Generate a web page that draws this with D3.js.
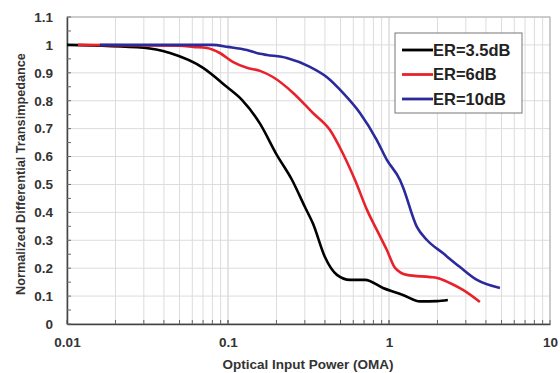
<!DOCTYPE html>
<html>
<head>
<meta charset="utf-8">
<script src="https://cdn.jsdelivr.net/npm/d3@7"></script>
<style>
  body { margin: 0; background: #fff; }
  svg { font-family: "Liberation Sans", Arial, sans-serif; }
</style>
</head>
<body>
<div id="chart"></div>
<script>
// Data (x = optical power OMA, y = normalized transimpedance)
const er35X = [0.01, 0.03, 0.0436, 0.070, 0.0986, 0.122, 0.158, 0.2, 0.25, 0.3, 0.337, 0.40, 0.475, 0.573, 0.71, 0.918, 1.22, 1.56, 1.99, 2.32];
const er35Y = [1.0, 0.99, 0.971, 0.918, 0.849, 0.803, 0.718, 0.608, 0.516, 0.42, 0.36, 0.24, 0.176, 0.158, 0.158, 0.129, 0.104, 0.081, 0.082, 0.086];

const er6X = [0.0117, 0.05, 0.061, 0.074, 0.089, 0.107, 0.131, 0.158, 0.19, 0.254, 0.337, 0.43, 0.518, 0.615, 0.73, 0.84, 0.97, 1.09, 1.29, 1.80, 1.99, 2.39, 2.88, 3.67];
const er6Y = [1.0, 0.997, 0.993, 0.989, 0.971, 0.939, 0.918, 0.907, 0.885, 0.828, 0.756, 0.695, 0.61, 0.516, 0.409, 0.337, 0.265, 0.201, 0.176, 0.168, 0.165, 0.147, 0.122, 0.079];

const er10X = [0.016, 0.08, 0.1, 0.131, 0.158, 0.175, 0.232, 0.323, 0.41, 0.518, 0.66, 0.84, 0.97, 1.17, 1.22, 1.49, 1.72, 2.16, 2.76, 3.52, 4.89];
const er10Y = [1.0, 1.0, 0.993, 0.982, 0.968, 0.964, 0.953, 0.921, 0.885, 0.828, 0.756, 0.659, 0.588, 0.516, 0.491, 0.348, 0.301, 0.254, 0.204, 0.158, 0.129];

const seriesNames = ["ER=3.5dB", "ER=6dB", "ER=10dB"];
const seriesColors = ["#000000", "#e8212b", "#2b2a9c"];
const xTickValues = [0.01, 0.1, 1, 10];
const yTickValues = [0, 0.1, 0.2, 0.3, 0.4, 0.5, 0.6, 0.7, 0.8, 0.9, 1, 1.1];

const series = [
  { name: seriesNames[0], color: seriesColors[0], pts: er35X.map((x, i) => [x, er35Y[i]]) },
  { name: seriesNames[1], color: seriesColors[1], pts: er6X.map((x, i) => [x, er6Y[i]]) },
  { name: seriesNames[2], color: seriesColors[2], pts: er10X.map((x, i) => [x, er10Y[i]]) },
];

const W = 560, H = 373;
const margin = { top: 17, right: 10, bottom: 49, left: 67 };
const width = W - margin.left - margin.right;
const height = H - margin.top - margin.bottom;

const svg = d3.select("#chart").append("svg")
  .attr("width", W).attr("height", H);
const g = svg.append("g").attr("transform", `translate(${margin.left},${margin.top})`);

const x = d3.scaleLog().domain([0.01, 10]).range([0, width]);
const y = d3.scaleLinear().domain([0, 1.1]).range([height, 0]);

// minor log values for grid
const minorX = [];
for (let d = 0.01; d < 10; d *= 10) {
  for (let k = 1; k <= 10; k++) minorX.push(+(d * k).toPrecision(3));
}

// Grid lines
g.selectAll(".vgrid").data(minorX).enter().append("line")
  .attr("x1", d => x(d)).attr("x2", d => x(d))
  .attr("y1", 0).attr("y2", height)
  .style("stroke", "#dcdcdc").style("stroke-width", 1);

g.selectAll(".hgrid").data(yTickValues).enter().append("line")
  .attr("x1", 0).attr("x2", width)
  .attr("y1", d => y(d)).attr("y2", d => y(d))
  .style("stroke", "#dcdcdc").style("stroke-width", 1);

// Plot border (top/right lighter)
g.append("rect").attr("width", width).attr("height", height)
  .style("fill", "none").style("stroke", "#aaa").style("stroke-width", 1);

// Axes
const xAxis = d3.axisBottom(x).tickValues(xTickValues)
  .tickFormat(d => String(d)).tickSize(0).tickPadding(13);
const xg = g.append("g").attr("transform", `translate(0,${height})`).call(xAxis);
xg.select(".domain").style("stroke", "#444").style("stroke-width", 1.5);

// minor ticks on bottom axis (inside)
g.selectAll(".xminor").data(minorX).enter().append("line")
  .attr("x1", d => x(d)).attr("x2", d => x(d))
  .attr("y1", height).attr("y2", height - 4)
  .style("stroke", "#666");

const yAxis = d3.axisLeft(y).tickValues(yTickValues)
  .tickFormat(d => d3.format("~g")(d)).tickSize(0).tickPadding(14);
const yg = g.append("g").call(yAxis);
yg.select(".domain").style("stroke", "#444").style("stroke-width", 1.5);

// minor ticks on left axis at 0.05 steps
const yMinor = d3.range(0, 1.101, 0.05);
g.selectAll(".yminor").data(yMinor).enter().append("line")
  .attr("x1", 0).attr("x2", 4)
  .attr("y1", d => y(d)).attr("y2", d => y(d))
  .style("stroke", "#666");

svg.selectAll(".tick text")
  .style("font-size", "13.5px").style("font-weight", "bold").style("fill", "#333");

// Lines
const line = d3.line().x(d => x(d[0])).y(d => y(d[1])).curve(d3.curveMonotoneX);
g.selectAll(".series").data(series).enter().append("path")
  .attr("d", d => line(d.pts))
  .style("fill", "none")
  .style("stroke", d => d.color)
  .style("stroke-width", 2.6)
  .style("stroke-linejoin", "round");

// Legend
const lg = svg.append("g").attr("transform", "translate(395,33)");
lg.append("rect").attr("width", 127).attr("height", 80)
  .style("fill", "#fff").style("stroke", "#777").style("stroke-width", 1);
series.forEach((s, i) => {
  const yy = 17 + i * 24.5;
  lg.append("line").attr("x1", 7).attr("x2", 38).attr("y1", yy).attr("y2", yy)
    .style("stroke", s.color).style("stroke-width", 2.8);
  lg.append("text").attr("x", 38).attr("y", yy).attr("dy", "0.36em")
    .text(s.name)
    .style("font-size", "16.5px").style("font-weight", "bold").style("fill", "#222");
});

// Axis titles
svg.append("text")
  .attr("x", 308).attr("y", 369)
  .attr("text-anchor", "middle")
  .style("font-size", "13.5px").style("font-weight", "bold").style("fill", "#333")
  .text("Optical Input Power (OMA)");

svg.append("text")
  .attr("transform", `translate(25,174) rotate(-90)`)
  .attr("text-anchor", "middle")
  .style("font-size", "12.7px").style("font-weight", "bold").style("fill", "#333")
  .text("Normalized Differential Transimpedance");
</script>
</body>
</html>
